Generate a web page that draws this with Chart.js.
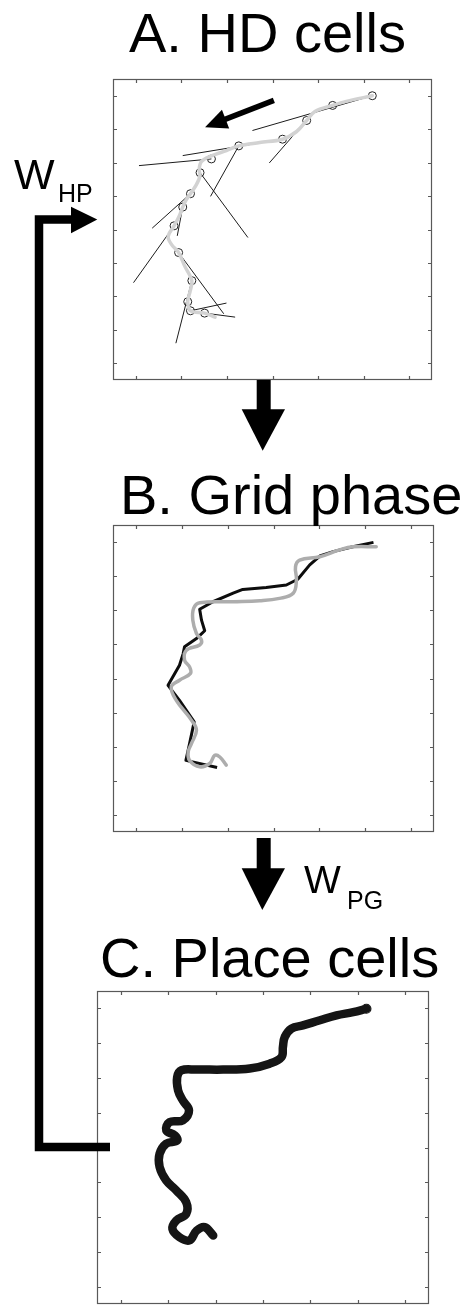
<!DOCTYPE html>
<html>
<head>
<meta charset="utf-8">
<script src="https://cdn.jsdelivr.net/npm/chart.js@4.4.1/dist/chart.umd.min.js"></script>
<style>
  html, body { margin: 0; padding: 0; background: #fff; overflow: hidden; }
  body { width: 464px; height: 1305px; position: relative; }
  canvas.panel { position: absolute; }
  svg#overlay { position: absolute; left: 0; top: 0; pointer-events: none; }
  svg text { font-family: "Liberation Sans", Arial, Helvetica, sans-serif; fill: #000; }
</style>
</head>
<body>
<canvas id="chartA" class="panel"></canvas>
<canvas id="chartB" class="panel"></canvas>
<canvas id="chartC" class="panel"></canvas>

<svg id="overlay" width="464" height="1305">
  <text x="129" y="52" font-size="56">A. HD cells</text>
  <text x="120" y="514" font-size="56">B. Grid phase</text>
  <text x="100" y="977" font-size="56">C. Place cells</text>

  <text x="14" y="189" font-size="43">W</text>
  <text x="58" y="202" font-size="25">HP</text>
  <text x="304" y="893" font-size="39">W</text>
  <text x="347" y="909" font-size="25">PG</text>

  <!-- A -> B -->
  <rect x="256.7" y="380" width="14" height="30" fill="#000"/>
  <polygon points="241.7,409.3 285,409.3 262.7,450.7" fill="#000"/>
  <!-- B -> C -->
  <rect x="256.7" y="838" width="14" height="31" fill="#000"/>
  <polygon points="241.7,868.3 285,868.3 262.3,910" fill="#000"/>
  <!-- C -> A feedback -->
  <polyline points="110,1147 39,1147 39,219.5 72,219.5" fill="none" stroke="#000" stroke-width="8.5" stroke-linejoin="miter"/>
  <polygon points="71,206.7 97.3,219.5 71,233.3" fill="#000"/>
</svg>

<script>
// axis ticks (shared by all three panels)
const xTicks = [1, 2, 3, 4, 5, 6, 7];
const yTicks = [1, 2, 3, 4, 5, 6, 7, 8, 9];

// A. HD cells - true path (gray)
const hdTrack = [
  [6.19, 9.00], [5.62, 8.83], [5.32, 8.71], [4.93, 8.53], [4.75, 8.26], [4.53, 7.93],
  [4.22, 7.70], [3.72, 7.60], [3.26, 7.50], [2.99, 7.36], [2.66, 7.20], [2.44, 7.03],
  [2.39, 6.79], [2.41, 6.61], [2.33, 6.34], [2.20, 6.07], [2.10, 5.87], [2.03, 5.67],
  [1.95, 5.39], [1.84, 5.11], [1.71, 4.79], [1.79, 4.54], [1.94, 4.31], [2.08, 3.89],
  [2.23, 3.47], [2.19, 3.14], [2.14, 2.84], [2.20, 2.57], [2.51, 2.50], [2.74, 2.38]
];
// A. sample positions (circles)
const hdSamples = [
  [6.19, 9.00], [5.32, 8.71], [4.75, 8.26], [4.22, 7.70], [3.26, 7.50], [2.66, 7.11],
  [2.41, 6.70], [2.20, 6.07], [2.03, 5.67], [1.84, 5.11], [1.94, 4.31], [2.23, 3.47],
  [2.14, 2.84], [2.20, 2.57], [2.51, 2.50]
];
// A. head direction segments [x1, y1, x2, y2]
const hdSegments = [
  [3.56, 7.96, 6.19, 9.00],
  [4.82, 8.38, 3.93, 6.99],
  [2.03, 7.21, 4.27, 7.71],
  [1.07, 6.91, 2.66, 7.11],
  [3.26, 7.50, 2.64, 5.99],
  [2.41, 6.70, 3.46, 4.76],
  [1.36, 5.04, 2.20, 6.07],
  [2.03, 5.67, 1.91, 4.81],
  [0.95, 3.41, 1.84, 5.11],
  [1.94, 4.31, 2.93, 2.48],
  [2.23, 3.47, 1.88, 1.60],
  [2.20, 2.57, 2.99, 2.80],
  [2.51, 2.50, 3.18, 2.38]
];
// A. direction-of-travel arrow [from, to]
const hdArrow = [[4.03, 8.86], [2.52, 8.06]];

// B. Grid phase - true (gray) and estimated (black)
const gridTrue = [
  [6.24, 8.86], [5.73, 8.86], [5.44, 8.77], [5.01, 8.57], [4.57, 8.47], [4.48, 8.28],
  [4.50, 7.89], [4.43, 7.50], [4.13, 7.35], [3.70, 7.28], [3.12, 7.25], [2.39, 7.22],
  [2.26, 7.06], [2.24, 6.71], [2.32, 6.32], [2.43, 6.12], [2.39, 5.98], [2.10, 5.83],
  [2.06, 5.54], [2.17, 5.34], [2.19, 5.15], [1.95, 4.95], [1.77, 4.75], [1.88, 4.36],
  [2.21, 3.78], [2.32, 3.48], [2.21, 3.09], [2.14, 2.85], [2.17, 2.60], [2.39, 2.41],
  [2.61, 2.51], [2.72, 2.75], [2.83, 2.70], [2.97, 2.46]
];
const gridEst = [
  [6.18, 8.99], [5.73, 8.86], [5.30, 8.72], [5.01, 8.59], [4.79, 8.33], [4.53, 7.91],
  [4.28, 7.74], [3.84, 7.67], [3.33, 7.61], [3.12, 7.50], [2.68, 7.25], [2.39, 7.03],
  [2.43, 6.71], [2.50, 6.40], [2.32, 6.17], [2.06, 5.93], [2.03, 5.73], [1.95, 5.39],
  [1.70, 4.80], [1.95, 4.36], [2.27, 3.73], [2.17, 3.09], [2.09, 2.60], [2.77, 2.39]
];

// C. Place cells - decoded positions
const placeTrack = [
  [6.18, 8.99], [5.90, 8.89], [5.55, 8.80], [5.20, 8.66], [4.84, 8.51], [4.60, 8.42],
  [4.46, 8.18], [4.42, 7.89], [4.39, 7.60], [4.14, 7.41], [3.72, 7.27], [3.16, 7.24],
  [2.60, 7.24], [2.28, 7.22], [2.19, 7.02], [2.21, 6.64], [2.31, 6.35], [2.44, 6.07],
  [2.31, 5.78], [2.03, 5.73], [1.96, 5.49], [2.14, 5.35], [2.19, 5.20], [1.96, 5.11],
  [1.82, 4.82], [1.82, 4.44], [1.96, 4.05], [2.17, 3.77], [2.38, 3.43], [2.38, 3.09],
  [2.17, 2.90], [2.09, 2.66], [2.24, 2.42], [2.45, 2.33], [2.60, 2.61], [2.77, 2.71],
  [2.95, 2.47]
];

const PAD = 6;
const toXY = arr => arr.map(p => ({ x: p[0], y: p[1] }));

// boxed frame with inward ticks on all four sides
const framePlugin = {
  id: 'frame',
  afterDatasetsDraw(chart) {
    const { ctx, chartArea: a, scales: { x, y } } = chart;
    ctx.save();
    ctx.strokeStyle = '#595959';
    ctx.lineWidth = 1.2;
    ctx.strokeRect(a.left + 0.5, a.top + 0.5, a.width - 1, a.height - 1);
    ctx.beginPath();
    xTicks.forEach(v => {
      const px = Math.round(x.getPixelForValue(v)) + 0.5;
      ctx.moveTo(px, a.top); ctx.lineTo(px, a.top + 4);
      ctx.moveTo(px, a.bottom); ctx.lineTo(px, a.bottom - 4);
    });
    yTicks.forEach(v => {
      const py = Math.round(y.getPixelForValue(v)) + 0.5;
      ctx.moveTo(a.left, py); ctx.lineTo(a.left + 4, py);
      ctx.moveTo(a.right, py); ctx.lineTo(a.right - 4, py);
    });
    ctx.stroke();
    ctx.restore();
  }
};

const arrowPlugin = {
  id: 'travelArrow',
  afterDatasetsDraw(chart) {
    const { ctx, scales: { x, y } } = chart;
    const x0 = x.getPixelForValue(hdArrow[0][0]), y0 = y.getPixelForValue(hdArrow[0][1]);
    const x1 = x.getPixelForValue(hdArrow[1][0]), y1 = y.getPixelForValue(hdArrow[1][1]);
    const ang = Math.atan2(y1 - y0, x1 - x0);
    const headLen = 22, headW = 10;
    const bx = x1 - headLen * Math.cos(ang), by = y1 - headLen * Math.sin(ang);
    ctx.save();
    ctx.strokeStyle = '#000';
    ctx.fillStyle = '#000';
    ctx.lineWidth = 5.5;
    ctx.beginPath(); ctx.moveTo(x0, y0); ctx.lineTo(bx + 2 * Math.cos(ang), by + 2 * Math.sin(ang)); ctx.stroke();
    ctx.beginPath();
    ctx.moveTo(x1, y1);
    ctx.lineTo(bx + headW * Math.sin(ang), by - headW * Math.cos(ang));
    ctx.lineTo(bx - headW * Math.sin(ang), by + headW * Math.cos(ang));
    ctx.closePath(); ctx.fill();
    ctx.restore();
  }
};

function makePanel(id, box, datasets, extraPlugins) {
  const cv = document.getElementById(id);
  cv.width = box.w + 2 * PAD;
  cv.height = box.h + 2 * PAD;
  cv.style.left = (box.left - PAD) + 'px';
  cv.style.top = (box.top - PAD) + 'px';
  return new Chart(cv, {
    type: 'scatter',
    data: { datasets },
    options: {
      responsive: false,
      animation: false,
      devicePixelRatio: 1,
      layout: { padding: PAD },
      plugins: { legend: { display: false }, tooltip: { enabled: false } },
      scales: {
        x: { type: 'linear', min: 0.5, max: 7.5, display: false },
        y: { type: 'linear', min: 0.5, max: 9.5, display: false }
      }
    },
    plugins: [framePlugin].concat(extraPlugins || [])
  });
}

// panel A
const segSets = hdSegments.map(s => ({
  data: [{ x: s[0], y: s[1] }, { x: s[2], y: s[3] }],
  showLine: true, borderColor: '#1c1c1c', borderWidth: 1, pointRadius: 0
}));
makePanel('chartA', { left: 113, top: 79, w: 319, h: 301 }, [
  { data: toXY(hdTrack), showLine: true, borderColor: '#d2d2d2', borderWidth: 3.5,
    tension: 0.35, pointRadius: 0, borderCapStyle: 'round' },
  ...segSets,
  { data: toXY(hdSamples), showLine: false, pointRadius: 4, pointBorderWidth: 1,
    pointBorderColor: '#222', pointBackgroundColor: 'rgba(0,0,0,0)' }
], [arrowPlugin]);

// panel B
makePanel('chartB', { left: 113, top: 525, w: 321, h: 307 }, [
  { data: toXY(gridTrue), showLine: true, borderColor: '#adadad', borderWidth: 3.5,
    tension: 0.4, pointRadius: 0, borderCapStyle: 'round' },
  { data: toXY(gridEst), showLine: true, borderColor: '#0d0d0d', borderWidth: 3,
    tension: 0, pointRadius: 0, borderJoinStyle: 'round' }
]);

// panel C
makePanel('chartC', { left: 97, top: 991, w: 332, h: 313 }, [
  { data: toXY(placeTrack), showLine: true, borderColor: '#151515', borderWidth: 8.5,
    tension: 0.4, pointRadius: 0, borderCapStyle: 'round', borderJoinStyle: 'round' },
  { data: toXY(placeTrack), showLine: true, borderColor: 'rgba(255,255,255,0.6)', borderWidth: 1.5,
    borderDash: [1, 2.5], tension: 0.4, pointRadius: 0 },
  { data: [{ x: placeTrack[0][0], y: placeTrack[0][1] }], showLine: false, pointRadius: 4.5,
    pointBorderWidth: 1.2, pointBorderColor: '#111', pointBackgroundColor: '#fff' }
]);
</script>
</body>
</html>
